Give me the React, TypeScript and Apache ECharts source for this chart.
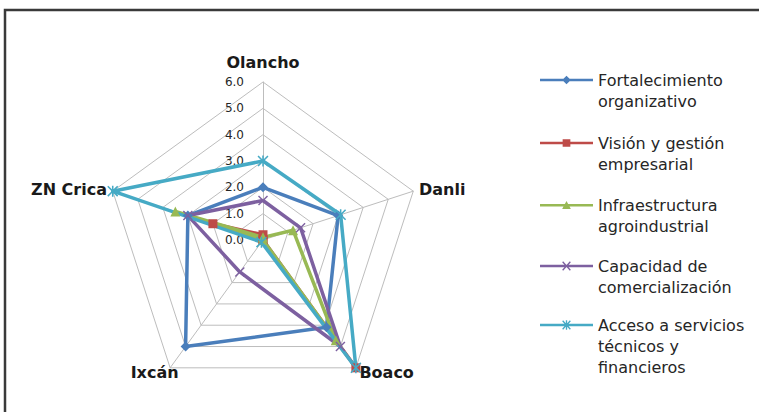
import React, { useEffect, useRef } from 'react';
import * as echarts from 'echarts';

// Indicators in the order they appear clockwise from the top
const indicatorNames = ['Olancho', 'Danli', 'Boaco', 'Ixcán', 'ZN Crica'];
const axisMax = 6;
const axisSplits = 6;

const seriesNames = [
  'Fortalecimiento organizativo',
  'Visión y gestión empresarial',
  'Infraestructura agroindustrial',
  'Capacidad de comercialización',
  'Acceso a servicios técnicos y financieros',
];
const legendLabels = [
  'Fortalecimiento\norganizativo',
  'Visión y gestión\nempresarial',
  'Infraestructura\nagroindustrial',
  'Capacidad de\ncomercialización',
  'Acceso a servicios\ntécnicos y\nfinancieros',
];
const seriesColors = ['#4a7ebb', '#be4b48', '#98b954', '#7d60a0', '#46aac5'];

// values: Olancho, Danli, Boaco, Ixcán, ZN Crica
const fortalecimiento = [2.0, 3.0, 4.1, 5.0, 3.0];
const vision = [0.2, 0.0, 6.0, 0.0, 2.0];
const infraestructura = [0.1, 1.2, 4.7, 0.0, 3.5];
const capacidad = [1.5, 1.5, 5.0, 1.5, 3.0];
const acceso = [3.0, 3.1, 6.0, 0.1, 6.0];
const seriesValues = [fortalecimiento, vision, infraestructura, capacidad, acceso];

const X_PATH = 'M0,1L1,0L5,4L9,0L10,1L6,5L10,9L9,10L5,6L1,10L0,9L4,5Z';
const STAR_PATH = X_PATH + 'M4.3,0H5.7V10H4.3Z';
const seriesSymbols = ['diamond', 'rect', 'triangle', 'path://' + X_PATH, 'path://' + STAR_PATH];
const seriesSymbolSizes = [10, 9, 10, 10, 11];

// Legend icons (line with marker), drawn in a 55x10 box
const LINE = 'M0,3.8H55V6.2H0Z';
const legendIcons = [
  'path://' + LINE + 'M27.5,0.5L32,5L27.5,9.5L23,5Z',
  'path://' + LINE + 'M23.5,1H31.5V9H23.5Z',
  'path://' + LINE + 'M27.5,0.5L32,9H23Z',
  'path://' + LINE + 'M23,1L24,0L27.5,4L31,0L32,1L28.5,5L32,9L31,10L27.5,6L24,10L23,9L26.5,5Z',
  'path://' + LINE + 'M23,1L24,0L27.5,4L31,0L32,1L28.5,5L32,9L31,10L27.5,6L24,10L23,9L26.5,5ZM26.8,0H28.2V10H26.8Z',
];
const legendIconY = [80, 143, 205, 266, 325];

// per-indicator name nudges (text style only)
const nameStyles: Record<string, any> = {
  Olancho: { padding: [0, 0, 6, 0] },
  Boaco: { padding: [8, 0, 0, 0] },
  'Ixcán': { align: 'center', padding: [8, 24, 0, 0] },
};

// ECharts radar lays indicators counter-clockwise; reorder so they appear clockwise
const ccwOrder = [0, 4, 3, 2, 1];

export default function App() {
  const ref = useRef<HTMLDivElement>(null);
  useEffect(() => {
    if (!ref.current) return;
    const chart = echarts.init(ref.current, null, { renderer: 'svg' });
    const font = 'DejaVu Sans';
    const lineH = 21;
    const option: any = {
      animation: false,
      backgroundColor: '#ffffff',
      textStyle: { fontFamily: font },
      graphic: [
        {
          type: 'rect',
          shape: { x: 5, y: 10, width: 800, height: 500 },
          style: { fill: 'none', stroke: '#3a3a3a', lineWidth: 2.5 },
          silent: true,
        },
      ],
      legend: seriesNames.map((name, i) => {
        const lines = legendLabels[i].split('\n').length;
        const blanks = lines - 1;
        const total = lines + blanks;
        return {
          data: [{ name, icon: legendIcons[i], itemStyle: { color: seriesColors[i] } }],
          left: 540,
          top: legendIconY[i] - (total * lineH) / 2,
          padding: 0,
          itemWidth: 53,
          itemHeight: 10,
          selectedMode: false,
          formatter: () => '\n'.repeat(blanks) + legendLabels[i],
          textStyle: { fontFamily: font, fontSize: 16, color: '#262626', lineHeight: lineH },
        };
      }),
      radar: {
        center: [263, 240],
        radius: 158,
        startAngle: 90,
        splitNumber: axisSplits,
        shape: 'polygon',
        nameGap: 6,
        axisName: { color: '#1a1a1a', fontWeight: 'bold', fontSize: 16, fontFamily: font },
        splitLine: { lineStyle: { color: '#bdbdbd', width: 1 } },
        splitArea: { show: false },
        axisLine: { lineStyle: { color: '#bdbdbd', width: 1 } },
        axisTick: { show: false },
        axisLabel: { show: false },
        indicator: ccwOrder.map((k) => {
          const nm = indicatorNames[k];
          const ind: any = { name: nm, min: 0, max: axisMax };
          if (nameStyles[nm]) ind.nameTextStyle = nameStyles[nm];
          if (k === 0) {
            ind.axisLabel = {
              show: true,
              fontSize: 12,
              margin: 19,
              color: '#262626',
              fontFamily: font,
              formatter: (v: number) => v.toFixed(1),
            };
          }
          return ind;
        }),
      },
      series: [
        {
          type: 'radar',
          data: seriesValues.map((vals, i) => ({
            name: seriesNames[i],
            value: ccwOrder.map((k) => vals[k]),
            symbol: seriesSymbols[i],
            symbolSize: seriesSymbolSizes[i],
            lineStyle: { color: seriesColors[i], width: 3.5 },
            itemStyle: { color: seriesColors[i] },
          })),
        },
      ],
    };
    chart.setOption(option);
    return () => chart.dispose();
  }, []);
  return (
    <div
      ref={ref}
      style={{ position: 'absolute', left: 0, top: 0, width: 759, height: 412 }}
    />
  );
}
